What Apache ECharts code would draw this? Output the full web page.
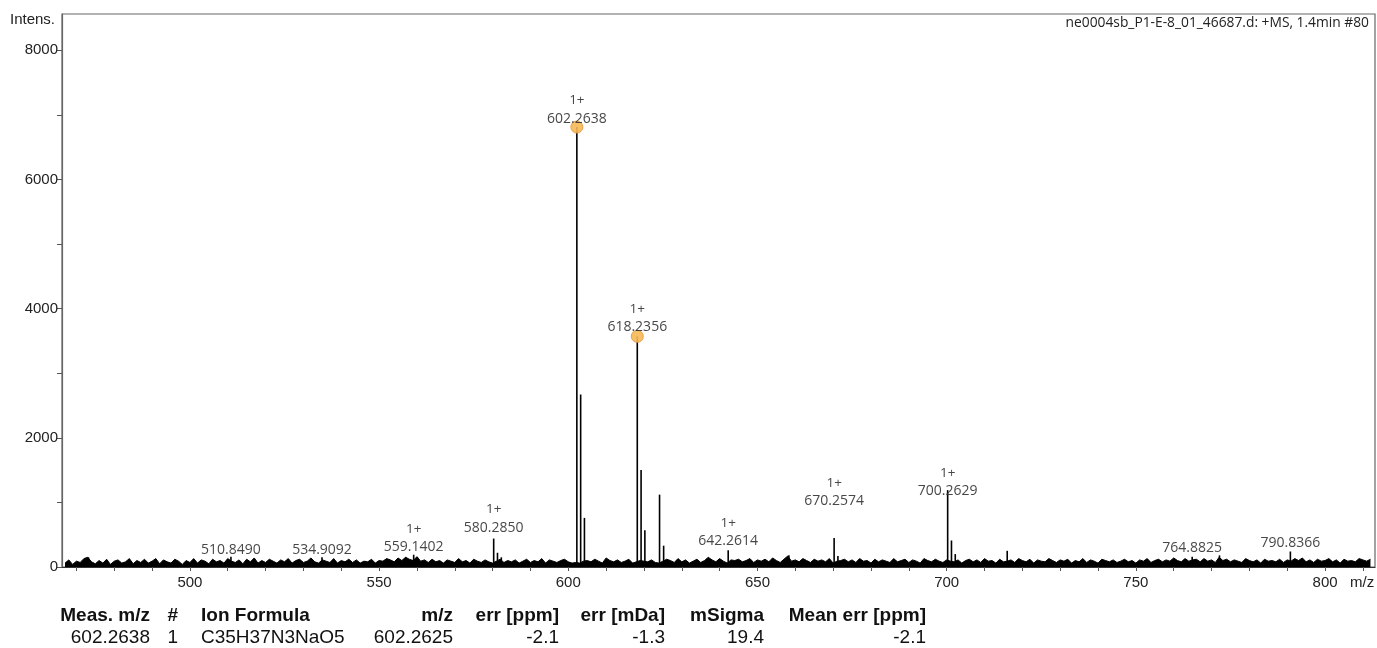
<!DOCTYPE html>
<html>
<head>
<meta charset="utf-8">
<script src="https://cdn.jsdelivr.net/npm/echarts@6/dist/echarts.min.js"></script>
<style>
  html, body { margin: 0; padding: 0; background: #fff; }
  #main { width: 1377px; height: 648px; }
</style>
</head>
<body>
<div id="main"></div>
<script>
// baseline noise, one value per integer m/z from 467 to 812
var noiseStart = 467;
var noise = [
    60,110,40,90,70,130,150,80,50,100,60,120,40,90,110,60,80,130,50,100,
    70,120,60,90,130,50,110,80,60,120,90,40,100,70,130,60,110,90,50,120,
    80,100,60,130,90,70,110,50,120,80,140,60,100,70,120,90,60,110,80,130,
    60,100,120,70,90,140,80,60,110,90,70,130,60,100,80,120,70,110,60,90,
    80,120,60,100,90,130,110,80,140,100,150,120,100,160,90,110,70,120,80,100,
    60,110,90,70,130,80,100,60,120,90,70,110,80,60,90,120,70,100,80,110,
    60,90,120,70,100,80,130,60,110,90,70,100,120,80,60,70,60,90,100,80,
    120,90,60,140,100,80,110,70,90,120,60,80,100,90,80,110,70,60,90,120,
    100,70,130,80,110,60,90,120,70,100,150,110,80,130,90,60,110,100,120,80,
    100,130,70,110,90,120,80,140,100,70,120,170,90,110,80,130,100,70,120,90,
    110,80,130,60,90,100,120,80,110,70,130,90,100,60,120,80,110,90,70,130,
    80,100,120,70,110,90,60,130,100,80,120,90,70,110,90,80,110,60,100,120,
    80,110,70,130,90,100,60,120,80,90,110,70,130,100,80,120,60,110,90,80,
    130,100,70,110,90,120,60,100,80,130,70,110,90,60,120,100,80,110,70,90,
    120,80,100,60,110,90,130,70,100,120,80,110,90,140,100,80,130,90,110,120,
    80,130,90,110,70,150,100,120,80,110,90,70,130,100,80,110,60,120,90,100,
    80,120,70,110,90,130,100,140,80,110,70,120,90,100,130,80,110,60,120,90,
    100,80,130,110,90,120
];

// centroid peaks
var peakMz  = [473.2, 510.849, 534.909, 557.1, 559.14, 560.1, 580.285, 581.29, 582.3,
               602.2638, 603.27, 604.27, 618.2356, 619.24, 620.24, 624.12, 625.2,
               642.2614, 658.3, 670.2574, 671.26, 700.2629, 701.27, 702.27, 716.0,
               764.8825, 772.1, 790.8366];
var peakInt = [150, 160, 150, 150, 190, 150, 440, 220, 150,
               6810, 2670, 760, 3570, 1500, 570, 1120, 330,
               260, 180, 450, 170, 1190, 410, 200, 250,
               160, 180, 240];

// annotated peaks
var labelMz     = [510.849, 534.909, 559.14, 580.285, 602.2638, 618.2356, 642.2614, 670.2574, 700.2629, 764.8825, 790.8366];
var labelInt    = [160, 150, 190, 440, 6810, 3570, 260, 450, 1190, 160, 240];
var labelText   = ['510.8490', '534.9092', '559.1402', '580.2850', '602.2638', '618.2356', '642.2614', '670.2574', '700.2629', '764.8825', '790.8366'];
var labelCharge = ['', '', '1+', '1+', '1+', '1+', '1+', '1+', '1+', '', ''];
var labelGap    = [7, 7, 8, 11, 2, 3, 9, 37, -1, 9, 8];   // px between peak top and text centre
var markedPeaks = [602.2638, 618.2356];

var yTicks = [0, 1000, 2000, 3000, 4000, 5000, 6000, 7000, 8000];
var yLabels = [0, 2000, 4000, 6000, 8000];
var xLabels = [500, 550, 600, 650, 700, 750, 800];
var xTicks = [];
for (var t = 470; t <= 810; t += 10) xTicks.push(t);

var tableHead = ['Meas. m/z', '#', 'Ion Formula', 'm/z', 'err [ppm]', 'err [mDa]', 'mSigma', 'Mean err [ppm]'];
var tableRow  = ['602.2638', '1', 'C35H37N3NaO5', '602.2625', '-2.1', '-1.3', '19.4', '-2.1'];

function init() {
    var myChart = echarts.init(document.getElementById('main'));

    var noiseData = noise.map(function (v, i) { return [noiseStart + i, v]; });
    var peakData = peakMz.map(function (m, i) { return [m, peakInt[i]]; });

    var labelData = labelMz.map(function (m, i) {
        var marked = markedPeaks.indexOf(m) >= 0;
        var txt = (labelCharge[i] ? '{c|' + labelCharge[i] + '}\n' : '') + '{n|' + labelText[i] + '}';
        return {
            value: [m, labelInt[i]],
            symbolSize: marked ? 12 : 0,
            label: {
                show: true,
                position: 'top',
                distance: 0,
                offset: [0, 9 - labelGap[i]],
                formatter: txt
            }
        };
    });

    // bottom table columns: [x, align]
    var cols = [[150, 'right'], [178, 'right'], [201, 'left'], [453, 'right'],
                [559, 'right'], [665, 'right'], [764, 'right'], [926, 'right']];
    var graphics = [
        { type: 'text', left: 10, top: 12, style: { text: 'Intens.', font: '15px "Liberation Sans", Arial', fill: '#222' } },
        { type: 'text', right: 8, top: 16, style: { text: 'ne0004sb_P1-E-8_01_46687.d: +MS, 1.4min #80', font: '13.8px "Open Sans"', fill: '#222' } },
        { type: 'text', left: 1350, top: 575, style: { text: 'm/z', font: '15px "Liberation Sans", Arial', fill: '#222' } }
    ];
    cols.forEach(function (c, i) {
        graphics.push({ type: 'text', x: c[0], y: 616, style: { text: tableHead[i], font: 'bold 19px "Liberation Sans", Arial', fill: '#111', align: c[1], verticalAlign: 'middle' } });
        graphics.push({ type: 'text', x: c[0], y: 638, style: { text: tableRow[i], font: '19px "Liberation Sans", Arial', fill: '#111', align: c[1], verticalAlign: 'middle' } });
    });

    var option = {
        animation: false,
        grid: {
            left: 62, right: 2, top: 14, bottom: 81,
            show: true, borderColor: '#666', borderWidth: 1.2
        },
        xAxis: {
            type: 'value',
            min: 466.2,
            max: 813.2,
            axisLine: { show: true, onZero: false, lineStyle: { color: '#333', width: 1 } },
            axisTick: { show: true, customValues: xTicks, length: 4, lineStyle: { color: '#555' } },
            axisLabel: { customValues: xLabels, color: '#222', fontSize: 15, fontFamily: '"Liberation Sans", Arial', margin: 8 },
            splitLine: { show: false }
        },
        yAxis: {
            type: 'value',
            min: 0,
            max: 8560,
            axisLine: { show: true, lineStyle: { color: '#666', width: 1.2 } },
            axisTick: { show: true, customValues: yTicks, length: 5, lineStyle: { color: '#555' } },
            axisLabel: {
                customValues: yLabels, color: '#222', fontSize: 15, fontFamily: '"Liberation Sans", Arial', margin: 4,
                formatter: function (v) { return String(v); }
            },
            splitLine: { show: false }
        },
        series: [
            {
                name: 'noise',
                type: 'line',
                data: noiseData,
                symbol: 'none',
                lineStyle: { color: '#000', width: 1 },
                areaStyle: { color: '#000', opacity: 1 },
                z: 2
            },
            {
                name: 'peaks',
                type: 'bar',
                data: peakData,
                barWidth: 1.6,
                itemStyle: { color: '#000' },
                z: 3
            },
            {
                name: 'labels',
                type: 'scatter',
                data: labelData,
                symbol: 'circle',
                itemStyle: { color: '#f7b955', borderColor: '#e8973a', borderWidth: 1, opacity: 0.9 },
                label: {
                    color: '#333',
                    fontFamily: '"Open Sans"',
                    rich: {
                        c: { fontSize: 13.5, lineHeight: 18, color: '#333', fontFamily: '"Open Sans"' },
                        n: { fontSize: 14, lineHeight: 18, color: '#333', fontFamily: '"Open Sans"' }
                    }
                },
                z: 4
            }
        ],
        graphic: graphics
    };
    myChart.setOption(option);
}

init();
</script>
</body>
</html>
